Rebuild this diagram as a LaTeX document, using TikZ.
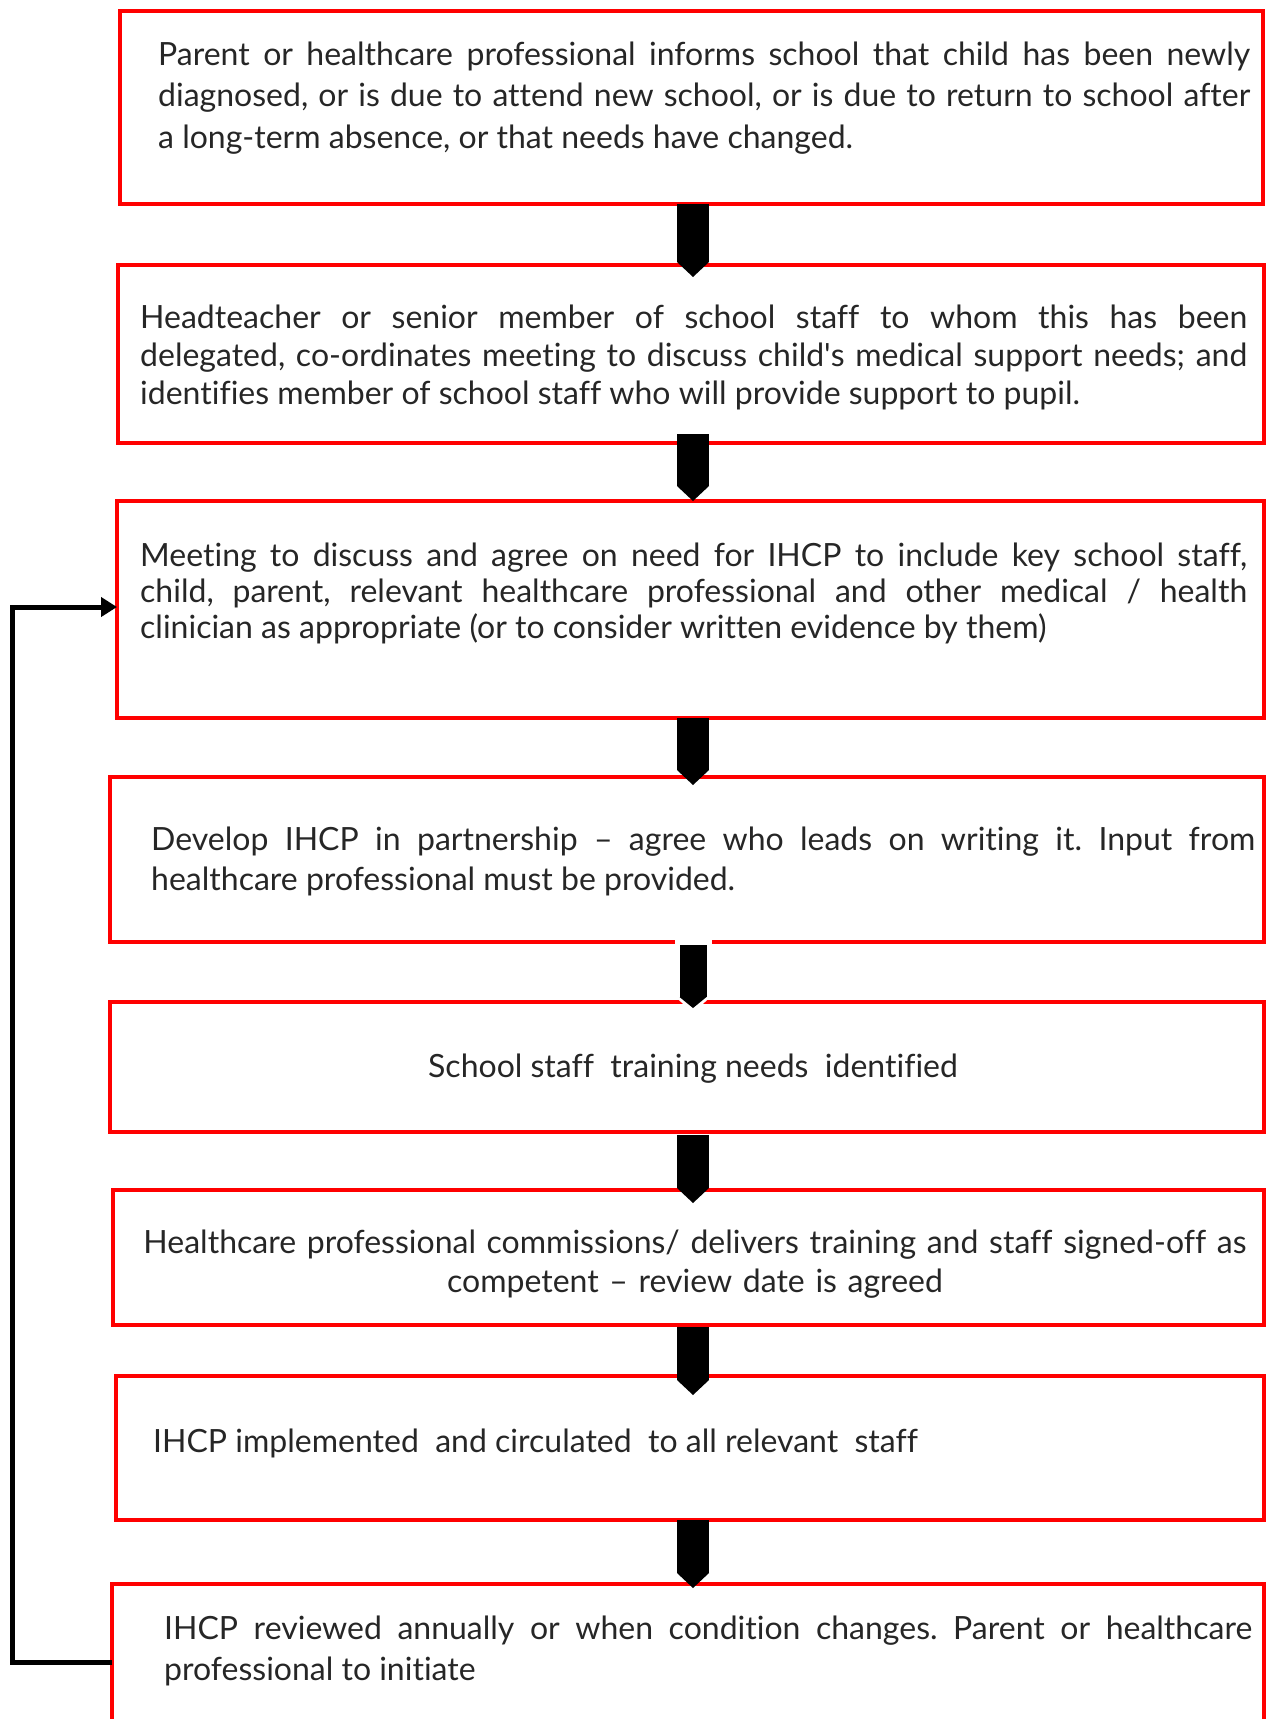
\documentclass[tikz,border=0pt]{standalone}
\usepackage{fontspec}
\setmainfont{Lato}[Ligatures=NoCommon]
\usetikzlibrary{arrows.meta, positioning, calc}
\definecolor{ink}{HTML}{262626}
\definecolor{boxred}{HTML}{FF0000}

\begin{document}
\begin{tikzpicture}[x=1pt, y=-1pt,
    stage/.style={draw=boxred, line width=4pt, rectangle, inner sep=0pt, outer sep=0pt, anchor=north west},
    txt/.style={text=ink, inner sep=0pt, anchor=base west, align=justify},
    mid/.style={text=ink, inner sep=0pt, anchor=base, align=center},
    blk/.style={draw=black, line width=32pt, -{Triangle[length=15pt, width=32pt, line width=0pt]}},
    thin/.style={draw=black, line width=27pt, -{Triangle[length=11pt, width=27pt, line width=0pt]}},
    halo/.style={draw=white, line width=37pt, -{Triangle[length=17pt, width=37pt, line width=0pt]}},
    back/.style={draw=black, line width=5pt, -{Triangle[length=16pt, width=19pt]}}]
\useasboundingbox (0,0) rectangle (1267,1719);
\coordinate (ax) at (693,0);
\node[stage, minimum width=1143pt, minimum height=193pt] (b1) at (120,11) {};
\node[stage, minimum width=1146pt, minimum height=178pt] (b2) at (118,265) {};
\node[stage, minimum width=1147pt, minimum height=217pt] (b3) at (117,501) {};
\node[stage, minimum width=1154pt, minimum height=165pt] (b4) at (110,777) {};
\node[stage, minimum width=1154pt, minimum height=130pt] (b5) at (110,1002) {};
\node[stage, minimum width=1151pt, minimum height=135pt] (b6) at (113,1190) {};
\node[stage, minimum width=1148pt, minimum height=144pt] (b7) at (116,1376) {};
\node[stage, minimum width=1152pt, minimum height=200pt] (b8) at (112,1584) {};

\node[txt, text width=1092pt, font=\fontsize{32}{41.6}\selectfont\frenchspacing] (t1) at (158,65)
    {Parent or healthcare professional informs school that child has been newly\linebreak diagnosed, or is due to attend new school, or is due to return to school after\linebreak a long-term absence, or that needs have changed.};
\node[txt, text width=1107pt, font=\fontsize{32}{38.4}\selectfont\frenchspacing] (t2) at (140,328)
    {Headteacher or senior member of school staff to whom this has been\linebreak delegated, co-ordinates meeting to discuss child\textquotesingle s medical support needs; and\linebreak identifies member of school staff who will provide support to pupil.};
\node[txt, text width=1107pt, font=\fontsize{32}{36.2}\selectfont\frenchspacing] (t3) at (140,566)
    {Meeting to discuss and agree on need for IHCP to include key school staff,\linebreak child, parent, relevant healthcare professional and other medical / health\linebreak clinician as appropriate (or to consider written evidence by them)};
\node[txt, text width=1104pt, font=\fontsize{32}{40.6}\selectfont\frenchspacing] (t4) at (151,850)
    {Develop IHCP in partnership – agree who leads on writing it. Input from\linebreak healthcare professional must be provided.};
\node[mid, font=\fontsize{32}{36}\selectfont] (t5) at (693,1077)
    {School staff\ \ training needs\ \ identified};
\node[mid, text width=1120pt, font=\fontsize{32}{39.5}\selectfont] (t6) at (695,1253)
    {Healthcare professional commissions/ delivers training and staff signed-off as\\ competent – review date is agreed};
\node[txt, font=\fontsize{32}{36}\selectfont] (t7) at (153,1452)
    {IHCP implemented\ \ and circulated\ \ to all relevant\ \ staff};
\node[txt, text width=1088pt, font=\fontsize{32}{41.6}\selectfont\frenchspacing] (t8) at (164,1639)
    {IHCP reviewed annually or when condition changes. Parent or healthcare\linebreak professional to initiate};

\draw
    (b1.south -| ax) edge[blk] ($(b2.north -| ax)+(0,12)$)
    ($(b2.south -| ax)+(0,-9)$) edge[blk] (b3.north -| ax)
    (b3.south -| ax) edge[blk] ($(b4.north -| ax)+(0,8)$)
    ($(b4.south -| ax)+(0,-2)$) edge[halo] ($(b5.north -| ax)+(0,11)$)
    ($(b4.south -| ax)+(0,3)$) edge[thin] ($(b5.north -| ax)+(0,6)$)
    ($(b5.south -| ax)+(0,3)$) edge[blk] ($(b6.north -| ax)+(0,13)$)
    ($(b6.south -| ax)+(0,2)$) edge[blk] ($(b7.north -| ax)+(0,19)$)
    (b7.south -| ax) edge[blk] ($(b8.north -| ax)+(0,4)$);
\draw[back] ($(b8.north west)+(0,78)$) -- ++(-100,0) |- ($(b3.north west)+(0,106)$);
\end{tikzpicture}
\end{document}
